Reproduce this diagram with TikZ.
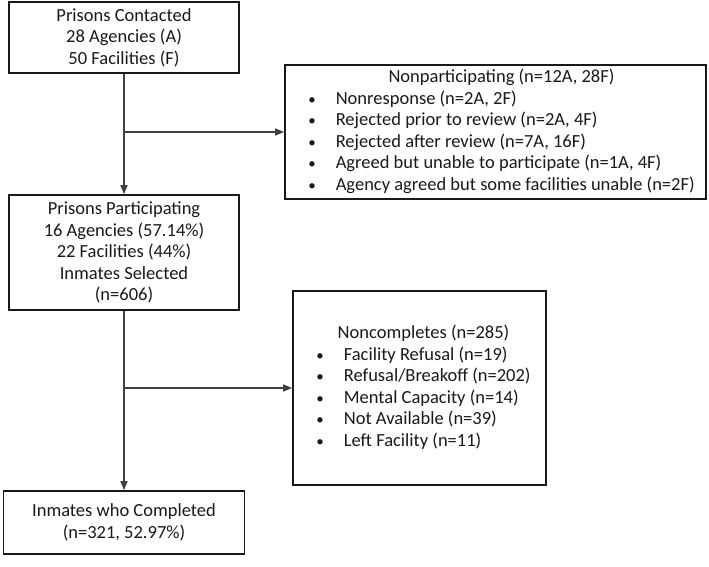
\documentclass[tikz,border=0pt]{standalone}
\usepackage{fontspec}
\setmainfont{Carlito}
\usetikzlibrary{arrows.meta}
\tikzset{
  box/.style={draw=black!90, line width=1.7pt, inner sep=0pt, align=center, font=\fontsize{18.5}{21.5}\selectfont, text=black!90},
  conn/.style={draw=black!75, line width=1.2pt},
  arr/.style={conn, -{Triangle[length=9pt,width=7pt]}}
}
\newcommand{\bul}{{\fontsize{15}{15}\selectfont\textbullet}}
\begin{document}
\begin{tikzpicture}[x=1pt,y=-1pt]
\useasboundingbox (0,0) rectangle (709,566);
\node[box, minimum width=230pt, minimum height=71pt] (b1) at (124,37.5)
  {Prisons Contacted\\28 Agencies (A)\\50 Facilities (F)};
\node[box, minimum width=421pt, minimum height=134pt] (b2) at (495.5,132)
  {\hspace*{12pt}\begin{tabular}{@{}l@{\hspace{20pt}}l@{}}
   \multicolumn{2}{c}{Nonparticipating (n=12A, 28F)}\\
   \bul & Nonresponse (n=2A, 2F)\\
   \bul & Rejected prior to review (n=2A, 4F)\\
   \bul & Rejected after review (n=7A, 16F)\\
   \bul & Agreed but unable to participate (n=1A, 4F)\\
   \bul & Agency agreed but some facilities unable (n=2F)
   \end{tabular}};
\node[box, minimum width=230pt, minimum height=115pt] (b3) at (124,252.5)
  {Prisons Participating\\16 Agencies (57.14\%)\\22 Facilities (44\%)\\Inmates Selected\\(n=606)};
\node[box, minimum width=253pt, minimum height=194pt] (b4) at (419.5,388)
  {\hspace*{8pt}\begin{tabular}{@{}l@{\hspace{20pt}}l@{}}
   \multicolumn{2}{c}{Noncompletes (n=285)}\\
   \bul & Facility Refusal (n=19)\\
   \bul & Refusal/Breakoff (n=202)\\
   \bul & Mental Capacity (n=14)\\
   \bul & Not Available (n=39)\\
   \bul & Left Facility (n=11)
   \end{tabular}};
\node[box, minimum width=241pt, minimum height=63pt] (b5) at (124,522.5)
  {Inmates who Completed\\(n=321, 52.97\%)};
\coordinate (j1) at (124,132);
\coordinate (j2) at (124,388);
\draw[arr] (b1.south) -- (b3.north);
\draw[arr] (j1) -- (b2.west);
\draw[arr] (b3.south) -- (b5.north);
\draw[arr] (j2) -- (b4.west);
\end{tikzpicture}
\end{document}
